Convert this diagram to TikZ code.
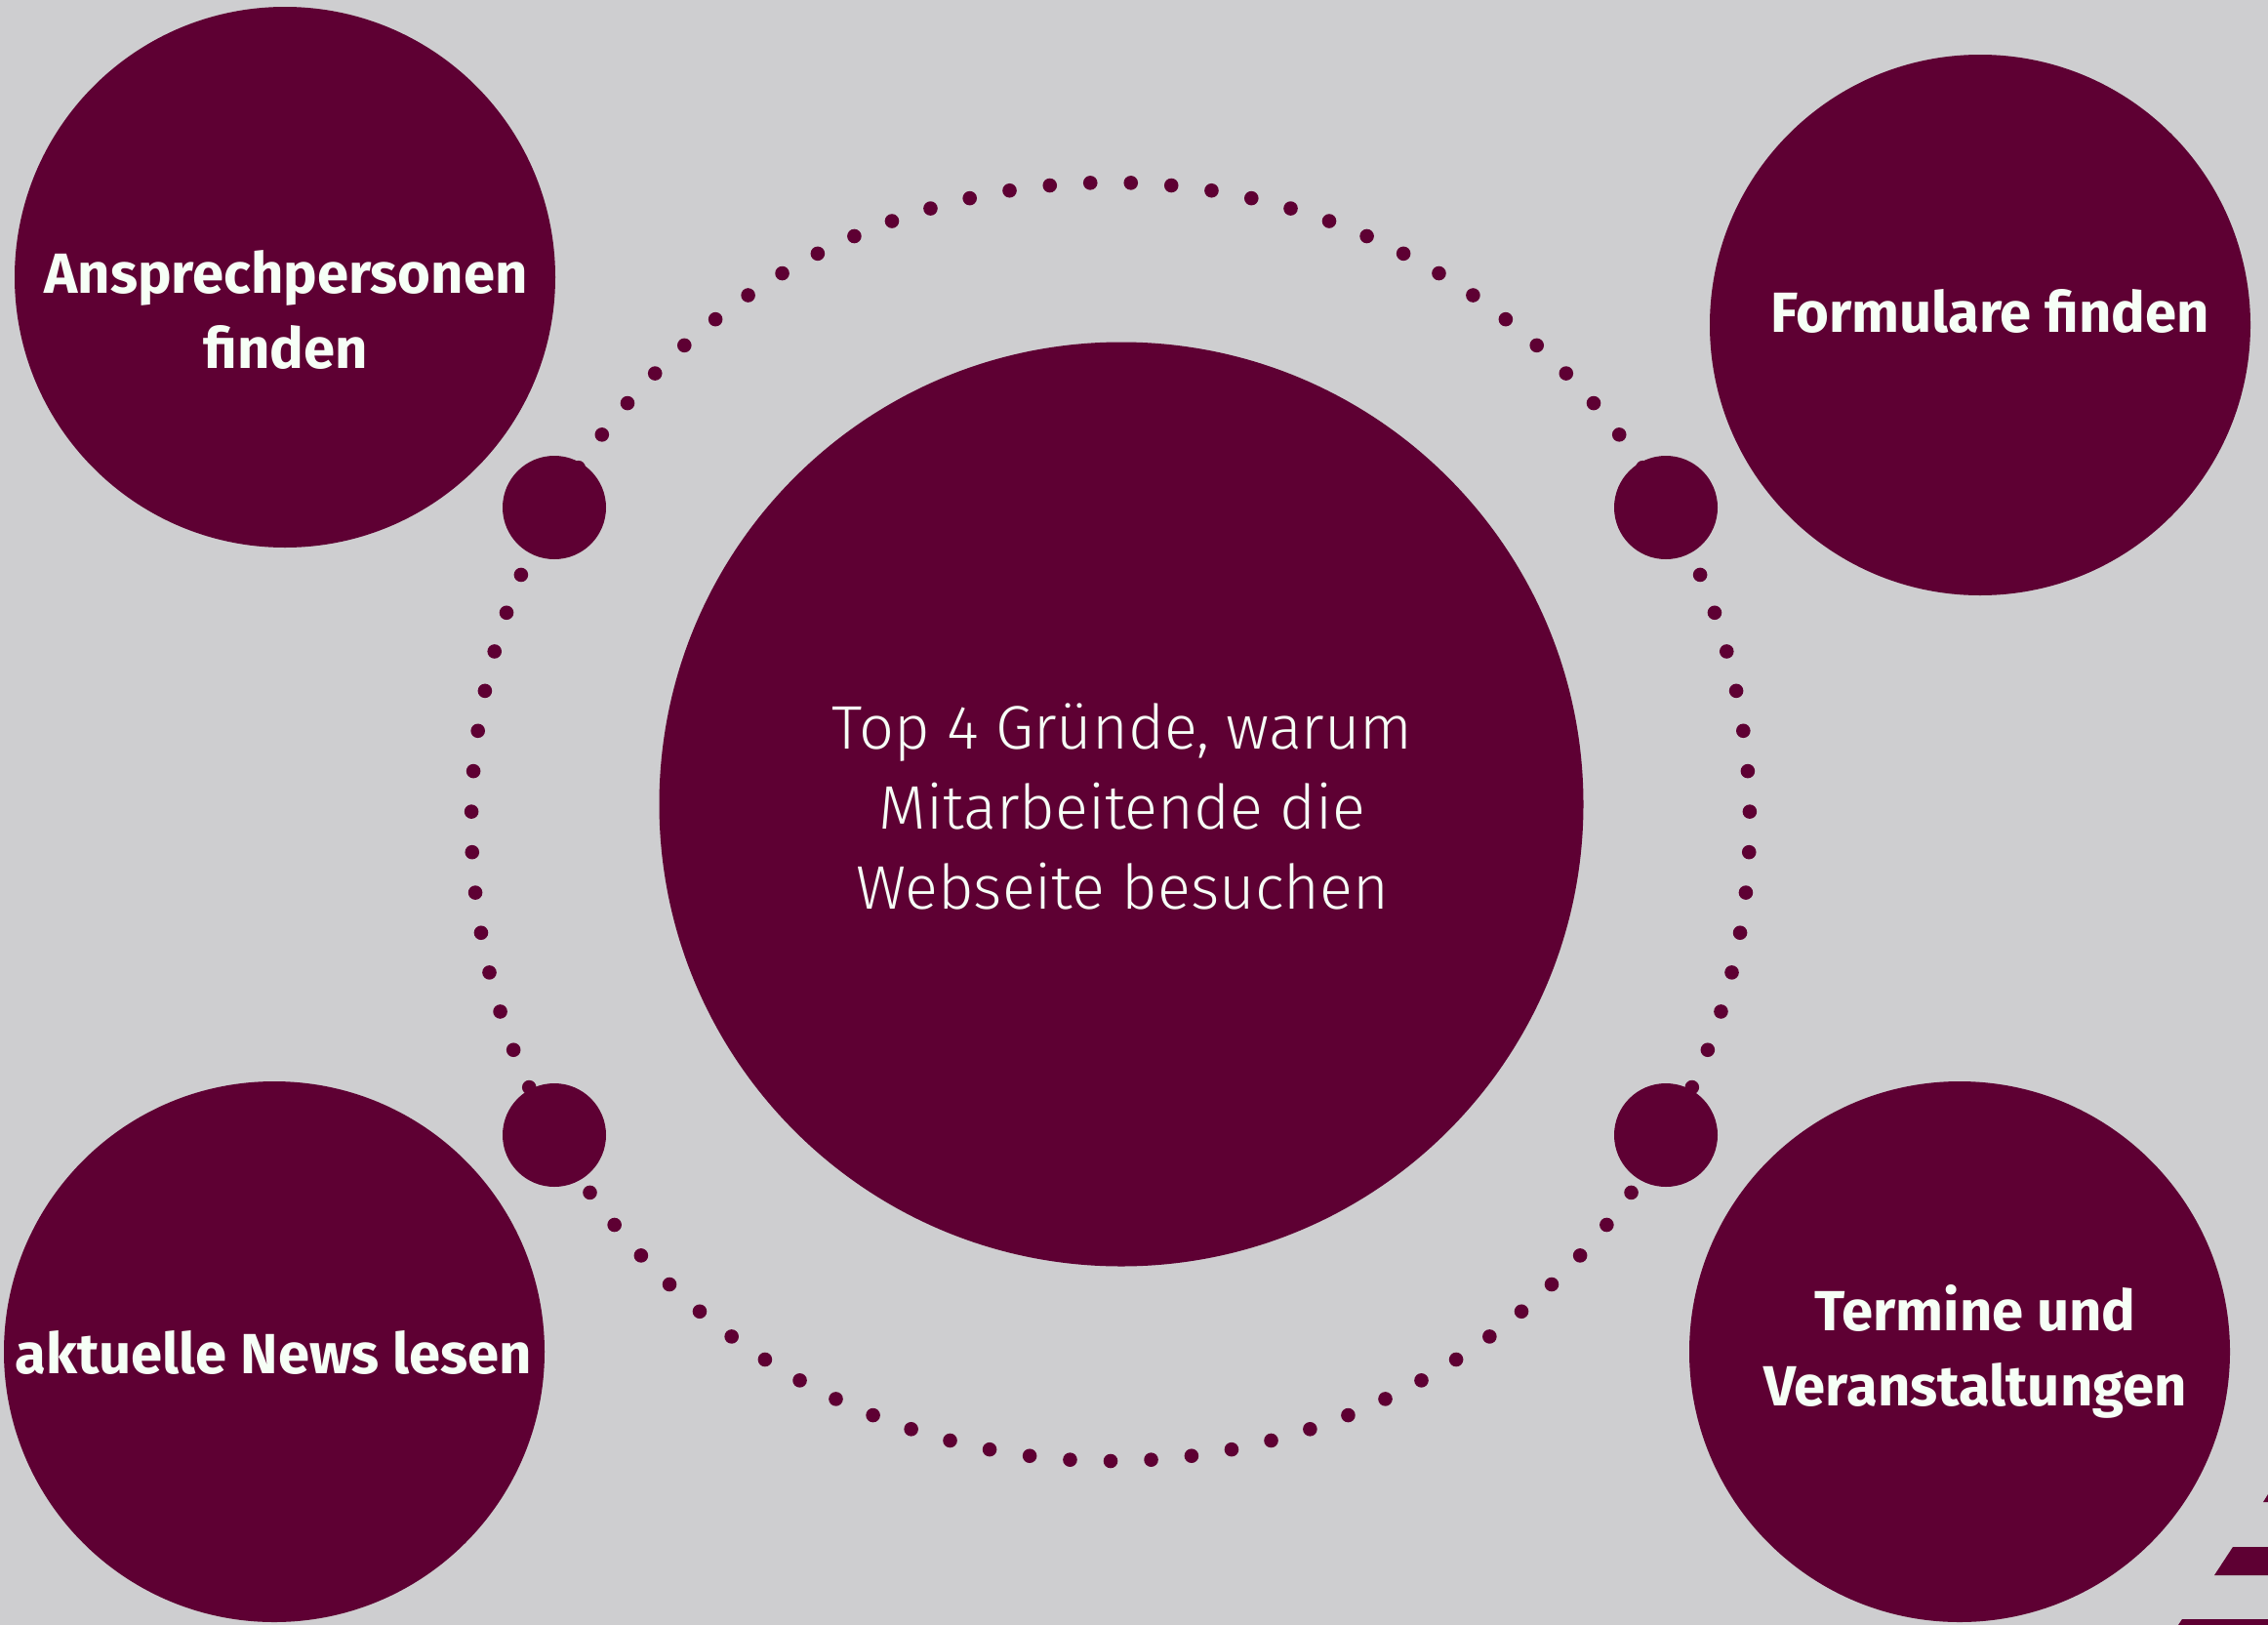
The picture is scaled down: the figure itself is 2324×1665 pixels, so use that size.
\documentclass[tikz,border=0pt]{standalone}
\usepackage{fontspec}
\setmainfont{Fira Sans}
\newfontfamily\thinfont{Fira Sans}[UprightFont=* Light]
\definecolor{maroon}{RGB}{94,0,51}
\definecolor{paper}{RGB}{206,206,208}
\definecolor{chalk}{RGB}{246,255,246}
\tikzset{bubble/.style={circle, fill=maroon, inner sep=0pt, minimum size=#1},
  bubble/.default=554pt,
  topic/.style={text=chalk, align=center, font=\bfseries\fontsize{58}{77}\selectfont}}

\begin{document}
\begin{tikzpicture}[x=1pt, y=-1pt]
      \fill [paper] (0, 0) rectangle (2324, 1665);
      \useasboundingbox (0, 0) rectangle (2324, 1665);

      % ring of dots
      \coordinate (ring) at (1138, 842);
      \foreach \k in {0,...,98}
        \fill [maroon] (ring) ++({90+\k*(360/99)}:655) circle (7.3pt);

      \node [bubble=947pt] (core) at (1149, 824) {};
      \node [bubble] (contacts) at (292, 284) {};
      \node [bubble] (forms) at (2029, 333) {};
      \node [bubble] (news) at (281, 1385) {};
      \node [bubble] (events) at (2008, 1385) {};

      \node [bubble=106pt] (hubnw) at (568, 520) {};
      \node [bubble=106pt] (hubne) at (1707, 520) {};
      \node [bubble=106pt] (hubsw) at (568, 1163) {};
      \node [bubble=106pt] (hubse) at (1707, 1163) {};

      \node [text=chalk, align=center, font=\thinfont\fontsize{63}{82}\selectfont] (coretext) at (1150, 826) {Top 4 Gründe, warum\\Mitarbeitende die\\Webseite besuchen};
      \node [topic] (contactstext) at (293, 318) {Ansprechpersonen\\finden};
      \node [topic] (formstext) at (2039, 319) {Formulare finden};
      \node [topic] (newstext) at (280, 1386) {aktuelle News lesen};
      \node [topic] (eventstext) at (2024, 1385) {Termine und\\Veranstaltungen};

      % cut-off marks in the corner
      \fill [maroon] (2324, 1531) -- (2319, 1539) -- (2324, 1539) -- cycle;
      \fill [maroon] (2288, 1585) -- (2324, 1585) -- (2324, 1614) -- (2269, 1614) -- cycle;
      \fill [maroon] (2236, 1659) -- (2324, 1659) -- (2324, 1665) -- (2232, 1665) -- cycle;
    \end{tikzpicture}
\end{document}
